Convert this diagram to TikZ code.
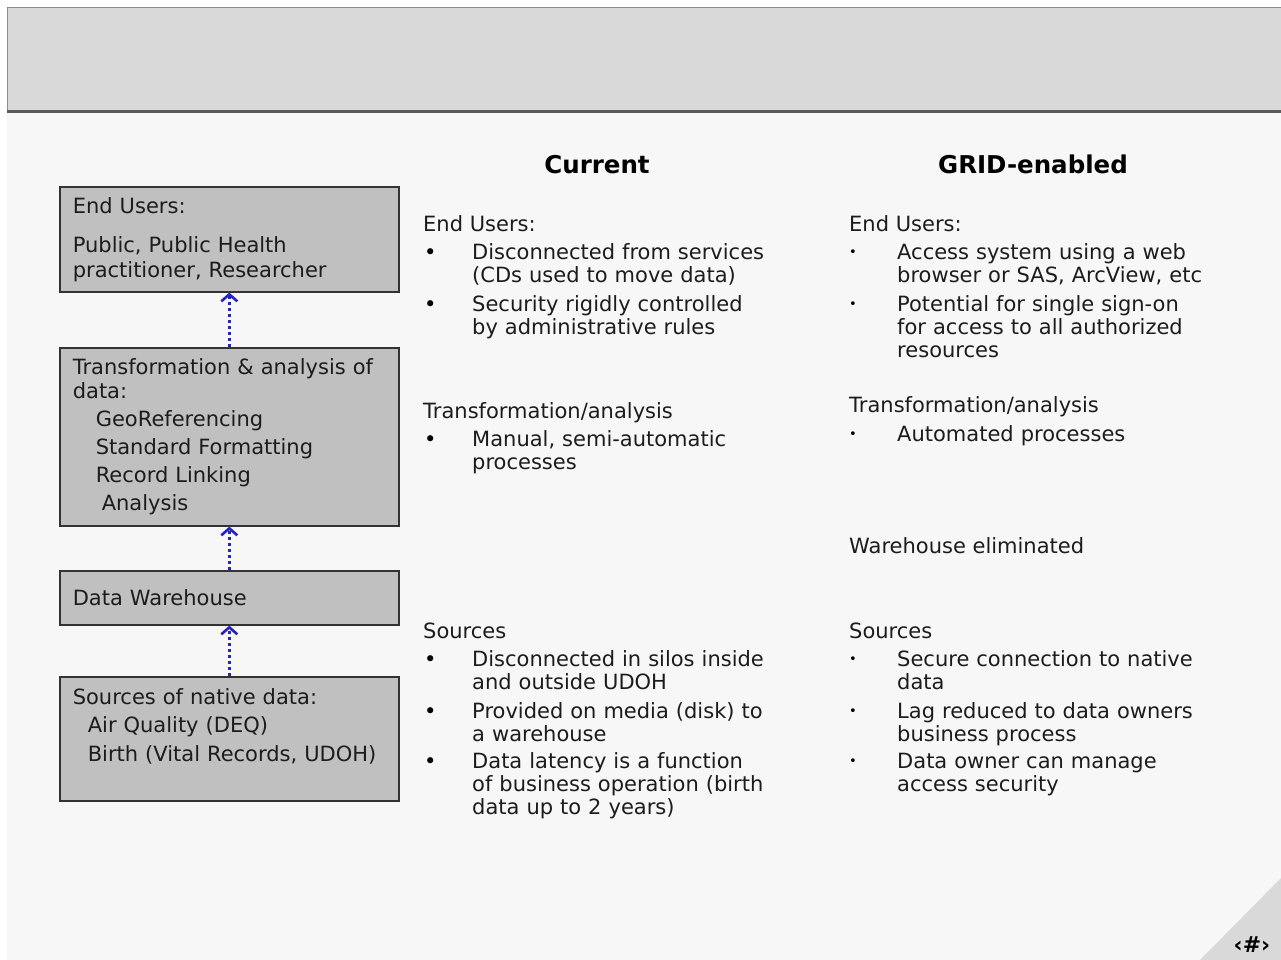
\documentclass[tikz,border=0pt]{standalone}
\usepackage{fontspec}
\setmainfont{DejaVu Sans}
\usetikzlibrary{arrows.meta}

\definecolor{slidebg}{RGB}{247,247,247}
\definecolor{bannergray}{RGB}{217,217,217}
\definecolor{boxgray}{RGB}{192,192,192}
\definecolor{linkblue}{RGB}{35,35,195}
\definecolor{inkgray}{RGB}{28,28,28}

\tikzset{
  tier/.style={draw=black!80, line width=1.6pt, fill=boxgray, anchor=north west,
    minimum width=339pt, text width=313pt, inner xsep=13pt, inner ysep=0pt,
    align=left, text=inkgray, font=\fontsize{21}{24}\selectfont},
  link/.style={linkblue, line width=3pt, dash pattern=on 2.6pt off 3.4pt,
    -{Straight Barb[length=7pt,width=16pt,line width=2.6pt]}},
  head/.style={anchor=base, inner sep=0pt, font=\bfseries\fontsize{24.5}{27}\selectfont, text=black},
  sect/.style={anchor=base west, inner sep=0pt, font=\fontsize{21}{23}\selectfont, text=inkgray},
  entry/.style={sect, text width=360pt, align=left},
  dot/.style={anchor=base west, inner sep=0pt, font=\fontsize{21}{23}\selectfont, text=black},
  smalldot/.style={dot, font=\fontsize{13}{15}\selectfont}
}

\begin{document}
\begin{tikzpicture}[x=1pt,y=-1pt]
  \useasboundingbox (0,0) rectangle (1281,960);
  % slide background, banner and corner
  \fill[white] (0,0) rectangle (1281,960);
  \fill[slidebg] (7,113) rectangle (1281,960);
  \fill[bannergray] (7,8) rectangle (1281,110);
  \draw[black!45, line width=1pt] (1281,8) -- (7,8) -- (7,110);
  \draw[black!65, line width=3pt] (7,111.5) -- (1281,111.5);
  \fill[bannergray] (1281,878) -- (1281,960) -- (1200,960) -- cycle;
  \node[anchor=base, inner sep=0pt, font=\bfseries\fontsize{22}{24}\selectfont] (pg) at (1252,952) {‹\#›};

  % left stack
  \node[tier, minimum height=105pt, font=\fontsize{21}{25}\selectfont] (users) at (59,186)
    {End Users:\\[14pt]Public, Public Health\\practitioner, Researcher};
  \node[tier, minimum height=178pt] (trans) at (59,347)
    {Transformation \& analysis of data:\\[4pt]
     \hspace*{23pt}GeoReferencing\\[4pt]\hspace*{23pt}Standard Formatting\\[4pt]
     \hspace*{23pt}Record Linking\\[4pt]\hspace*{29pt}Analysis};
  \node[tier, minimum height=54pt] (ware) at (59,570) {Data Warehouse};
  \node[tier, minimum height=124pt, font=\fontsize{21}{28.5}\selectfont] (src) at (59,676)
    {Sources of native data:\\\hspace*{15pt}Air Quality (DEQ)\\
     \hspace*{15pt}Birth (Vital Records, UDOH)\\\mbox{}};
  \draw[link] (trans.north) -- (users.south);
  \draw[link] (ware.north) -- (trans.south);
  \draw[link] (src.north) -- (ware.south);

  % column heads
  \node[head] (cur) at (597,174) {Current};
  \node[head] (grid) at (1033,174) {GRID-enabled};

  % current
  \node[sect] (cusers) at (423,231) {End Users:};
  \node[sect] (ctrans) at (423,418) {Transformation/analysis};
  \node[sect] (csrc) at (423,638) {Sources};
  \foreach \y [count=\i] in {259,311,446,666,718,768}
    \node[dot] (cb\i) at (424,\y) {•};
  \node[entry] (c1) at (472,259) {Disconnected from services\\(CDs used to move data)};
  \node[entry] (c2) at (472,311) {Security rigidly controlled\\by administrative rules};
  \node[entry] (c3) at (472,446) {Manual, semi-automatic\\processes};
  \node[entry] (c4) at (472,666) {Disconnected in silos inside\\and outside UDOH};
  \node[entry] (c5) at (472,718) {Provided on media (disk) to\\a warehouse};
  \node[entry] (c6) at (472,768) {Data latency is a function\\of business operation (birth\\data up to 2 years)};

  % grid-enabled
  \node[sect] (gusers) at (849,231) {End Users:};
  \node[sect] (gtrans) at (849,412) {Transformation/analysis};
  \node[sect] (gware) at (849,553) {Warehouse eliminated};
  \node[sect] (gsrc) at (849,638) {Sources};
  \foreach \y [count=\i] in {259,311,441,666,718,768}
    \node[smalldot] (gb\i) at (849,\y-3) {•};
  \node[entry] (g1) at (897,259) {Access system using a web\\browser or SAS, ArcView, etc};
  \node[entry] (g2) at (897,311) {Potential for single sign-on\\for access to all authorized\\resources};
  \node[entry] (g3) at (897,441) {Automated processes};
  \node[entry] (g4) at (897,666) {Secure connection to native\\data};
  \node[entry] (g5) at (897,718) {Lag reduced to data owners\\business process};
  \node[entry] (g6) at (897,768) {Data owner can manage\\access security};
\end{tikzpicture}
\end{document}
